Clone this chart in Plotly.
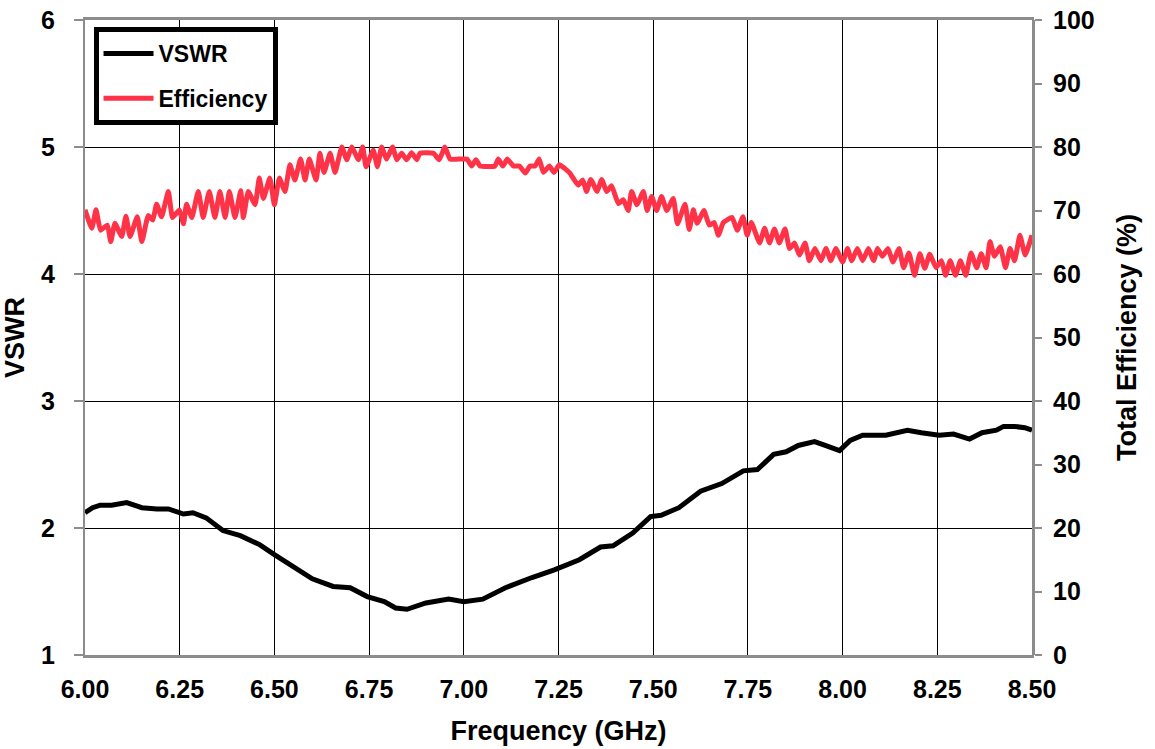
import plotly.graph_objects as go

# VSWR data
vswr_freq = [6.00, 6.02, 6.04, 6.07, 6.11, 6.15, 6.19, 6.22, 6.26, 6.285, 6.32, 6.364, 6.41, 6.46,
             6.50, 6.55, 6.60, 6.655, 6.70, 6.745, 6.79, 6.82, 6.85, 6.90, 6.96, 7.00, 7.05, 7.11,
             7.135, 7.18, 7.239, 7.305, 7.361, 7.394, 7.446, 7.493, 7.521, 7.568, 7.625, 7.681,
             7.738, 7.775, 7.818, 7.851, 7.883, 7.926, 7.954, 7.992, 8.02, 8.053, 8.114, 8.171,
             8.208, 8.255, 8.293, 8.335, 8.368, 8.406, 8.425, 8.453, 8.481, 8.50]
vswr_vals = [2.12, 2.16, 2.18, 2.18, 2.20, 2.16, 2.15, 2.15, 2.11, 2.12, 2.08, 1.98, 1.94, 1.87,
             1.79, 1.69, 1.60, 1.54, 1.53, 1.46, 1.42, 1.37, 1.36, 1.41, 1.44, 1.42, 1.44, 1.53,
             1.56, 1.61, 1.67, 1.75, 1.85, 1.86, 1.96, 2.09, 2.10, 2.16, 2.29, 2.35,
             2.45, 2.46, 2.58, 2.60, 2.65, 2.68, 2.65, 2.61, 2.69, 2.73, 2.73, 2.77,
             2.75, 2.73, 2.74, 2.70, 2.75, 2.77, 2.80, 2.80, 2.79, 2.77]

# Efficiency data (%)
eff_freq = [6.000, 6.018, 6.029, 6.041, 6.059, 6.068, 6.079, 6.097, 6.108, 6.119, 6.138, 6.150,
            6.167, 6.179, 6.189, 6.202, 6.220, 6.231, 6.249, 6.260, 6.268, 6.282, 6.299, 6.312,
            6.328, 6.343, 6.356, 6.370, 6.381, 6.396, 6.411,
            6.418, 6.431, 6.449, 6.460, 6.471, 6.488, 6.500, 6.513, 6.528, 6.541, 6.554, 6.569,
            6.581, 6.592, 6.610, 6.620, 6.631, 6.647, 6.660, 6.678, 6.691, 6.704, 6.722, 6.733,
            6.742, 6.761, 6.772, 6.783, 6.796, 6.812, 6.823, 6.836,
            6.849, 6.862, 6.876, 6.884, 6.920, 6.935, 6.950, 6.964, 7.008, 7.021, 7.032, 7.043,
            7.082, 7.091, 7.103, 7.115, 7.131, 7.147, 7.162, 7.175, 7.188, 7.199, 7.210, 7.226,
            7.238, 7.252,
            7.267, 7.280, 7.302, 7.314, 7.324, 7.335, 7.352, 7.364, 7.377, 7.390, 7.408, 7.421,
            7.434, 7.443, 7.457, 7.474, 7.484, 7.496, 7.509, 7.522, 7.536, 7.553, 7.564, 7.584,
            7.595, 7.606, 7.616, 7.634, 7.648, 7.661, 7.672, 7.685,
            7.708, 7.722, 7.737, 7.748, 7.759, 7.781, 7.794, 7.807, 7.820, 7.833, 7.848, 7.860,
            7.873, 7.886, 7.901, 7.912, 7.927, 7.943, 7.956, 7.969, 7.982, 8.000, 8.013, 8.024,
            8.039, 8.053, 8.068, 8.082,
            8.092, 8.105, 8.120, 8.133, 8.149, 8.161, 8.175, 8.190, 8.204, 8.217, 8.230, 8.247,
            8.261, 8.272, 8.284, 8.298, 8.311, 8.325, 8.339, 8.354, 8.366, 8.379, 8.389, 8.401,
            8.416, 8.430, 8.442, 8.454, 8.468, 8.482, 8.500]
eff_vals = [70.1, 67.2, 70.1, 66.9, 67.7, 65.1, 68.0, 65.9, 69.1, 65.9, 69.0, 65.1,
            69.2, 68.5, 71.0, 69.0, 73.0, 68.9, 70.1, 67.9, 71.0, 68.9, 73.0, 68.9,
            73.0, 68.9, 73.0, 68.9, 73.0, 68.9, 73.1,
            68.9, 73.0, 70.9, 75.1, 71.9, 75.1, 70.9, 75.1, 73.0, 77.2, 74.8, 78.1,
            74.8, 78.1, 74.8, 79.0, 76.0, 79.0, 76.0, 80.0, 78.0, 80.0, 78.0, 80.0,
            76.9, 79.5, 76.9, 80.0, 78.1, 80.0, 78.0, 79.0,
            78.0, 79.1, 78.0, 79.0, 79.0, 78.0, 80.0, 78.1, 78.1, 77.0, 78.0, 77.0,
            77.0, 78.1, 77.0, 78.1, 77.0, 77.0, 75.9, 77.0, 77.0, 78.1, 76.0, 77.0,
            76.0, 77.2,
            76.6, 75.9, 74.0, 74.8, 73.0, 74.9, 73.0, 74.9, 73.0, 73.9, 71.1, 71.7,
            70.0, 73.0, 70.9, 73.0, 70.0, 72.2, 70.0, 72.2, 70.0, 71.9, 67.9, 71.0,
            67.0, 70.1, 68.0, 70.0, 67.7, 68.1, 66.1, 68.1,
            68.9, 66.9, 69.0, 66.1, 68.1, 64.9, 67.2, 64.9, 67.1, 64.9, 67.1, 64.0,
            64.9, 63.0, 64.9, 62.1, 64.0, 62.1, 64.0, 62.1, 64.0, 61.9, 64.0, 62.1,
            64.0, 62.1, 64.0, 62.1,
            64.0, 62.8, 64.0, 61.9, 64.0, 61.0, 63.3, 59.8, 63.2, 60.9, 63.1, 61.0,
            62.1, 59.8, 62.1, 59.8, 62.1, 59.8, 63.3, 61.0, 63.2, 61.0, 65.1, 62.8,
            64.3, 61.0, 64.0, 62.1, 66.1, 63.0, 66.1]

x_ticks = [6.00, 6.25, 6.50, 6.75, 7.00, 7.25, 7.50, 7.75, 8.00, 8.25, 8.50]
x_ticktext = ["6.00", "6.25", "6.50", "6.75", "7.00", "7.25", "7.50", "7.75", "8.00", "8.25", "8.50"]

FONT = "Liberation Sans, Arial, sans-serif"
GRAY = "#8c8c8c"

fig = go.Figure()
fig.add_trace(go.Scatter(x=vswr_freq, y=vswr_vals, name="VSWR", mode="lines",
                         line=dict(color="black", width=5), legendgroup="a", yaxis="y"))
fig.add_trace(go.Scatter(x=eff_freq, y=eff_vals, name="Efficiency", mode="lines",
                         line=dict(color="#FF3347", width=5, shape="spline", smoothing=0.4),
                         legendgroup="b", yaxis="y2"))

fig.update_layout(
    width=1155, height=749,
    margin=dict(l=85, r=123, t=20, b=94),
    paper_bgcolor="white", plot_bgcolor="white",
    font=dict(family=FONT, color="black", size=24, weight="bold"),
    showlegend=True,
    legend=dict(x=0.009, y=0.989, xanchor="left", yanchor="top",
                bgcolor="white", bordercolor="black", borderwidth=5,
                font=dict(family=FONT, size=23, weight="bold", color="black"),
                tracegroupgap=12, traceorder="grouped", itemwidth=50),
    xaxis=dict(range=[6, 8.5], tickvals=x_ticks, ticktext=x_ticktext,
               showgrid=True, gridcolor="black", gridwidth=1,
               showline=True, linecolor=GRAY, linewidth=3, mirror=True,
               ticks="", zeroline=False, automargin=False, ticklabelstandoff=10,
               ticklabeloverflow="allow",
               tickfont=dict(family=FONT, size=25, weight="bold"),
               title=dict(text="Frequency (GHz)", standoff=20,
                          font=dict(family=FONT, size=27, weight="bold"))),
    yaxis=dict(range=[1, 6], dtick=1, tick0=1,
               showgrid=True, gridcolor="black", gridwidth=1,
               showline=True, linecolor=GRAY, linewidth=2, mirror=True,
               ticks="outside", ticklen=9, tickcolor=GRAY, tickwidth=2, zeroline=False,
               automargin=False, ticklabelstandoff=14, ticklabeloverflow="allow",
               tickfont=dict(family=FONT, size=25, weight="bold"),
               title=dict(text="VSWR", standoff=11,
                          font=dict(family=FONT, size=27, weight="bold"))),
    yaxis2=dict(range=[0, 100], dtick=10, overlaying="y", side="right",
                showgrid=False, zeroline=False,
                showline=True, linecolor=GRAY, linewidth=3,
                ticks="outside", ticklen=7, tickcolor=GRAY, tickwidth=2,
                automargin=False, ticklabelstandoff=6, ticklabeloverflow="allow",
                tickfont=dict(family=FONT, size=25, weight="bold"),
                title=dict(text="Total Efficiency (%)", standoff=24,
                           font=dict(family=FONT, size=27, weight="bold"))),
)

fig.write_html("out.html", config={"displayModeBar": False},
               post_script="document.body.style.margin='0';")
